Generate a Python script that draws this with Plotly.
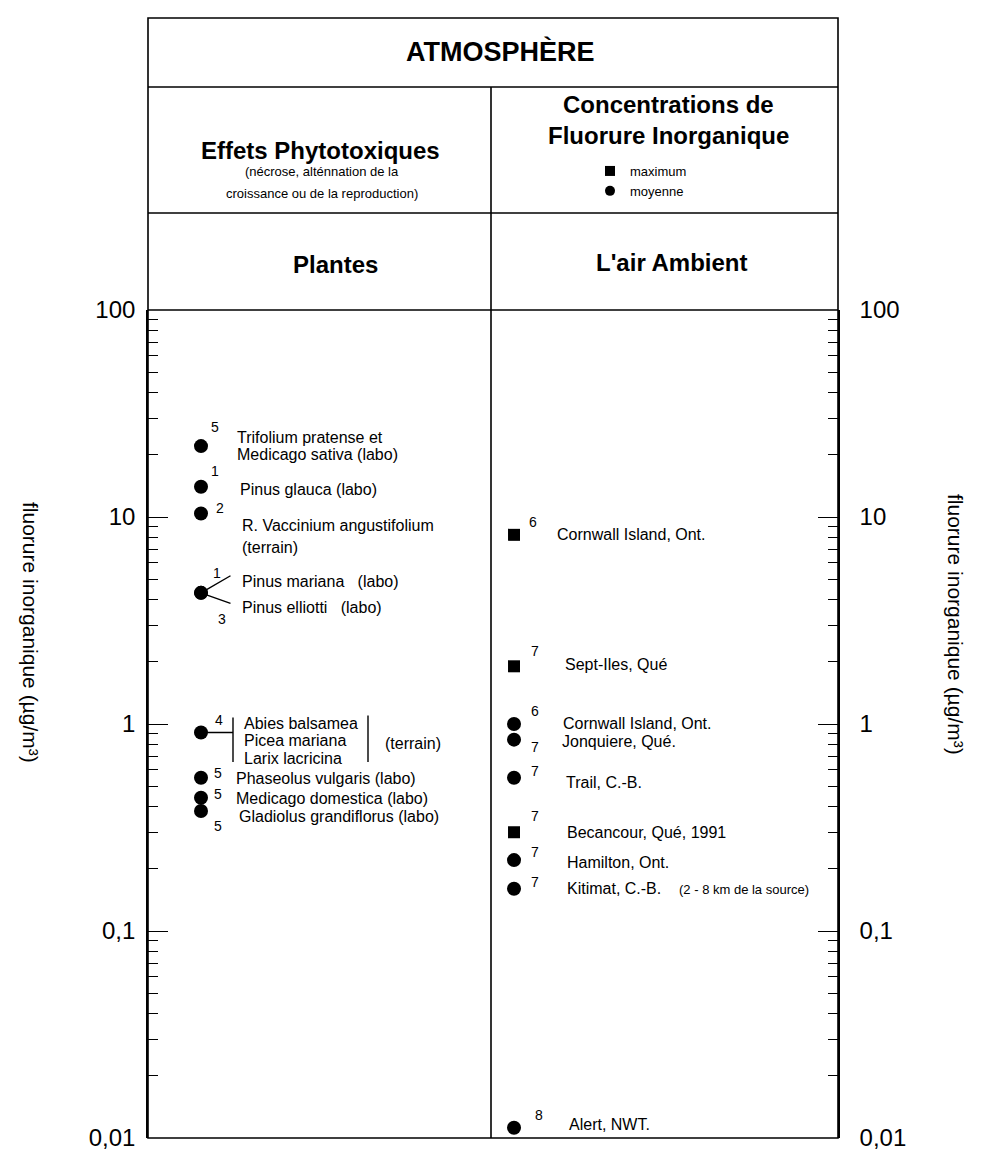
import numpy as np
import plotly.graph_objects as go

# ---------------- data ----------------
columns = ["Plantes", "L'air Ambient"]

plant_labels = [
    "Trifolium pratense et<br>Medicago sativa (labo)",
    "Pinus glauca (labo)",
    "R. Vaccinium angustifolium<br>(terrain)",
    "Pinus mariana   (labo)",
    "Pinus elliotti   (labo)",
    "Abies balsamea<br>Picea mariana<br>Larix lacricina",
    "Phaseolus vulgaris (labo)",
    "Medicago domestica (labo)",
    "Gladiolus grandiflorus (labo)",
]
plant_values = [22, 14, 10.4, 4.3, 4.3, 0.91, 0.55, 0.44, 0.38]
plant_refs = ["5", "1", "2", "1", "3", "4", "5", "5", "5"]

air_labels = [
    "Cornwall Island, Ont.",
    "Sept-Iles, Qué",
    "Cornwall Island, Ont.",
    "Jonquiere, Qué.",
    "Trail, C.-B.",
    "Becancour, Qué, 1991",
    "Hamilton, Ont.",
    "Kitimat, C.-B.    <span style='font-size:13px'>(2 - 8 km de la source)</span>",
    "Alert, NWT.",
]
air_values = [8.2, 1.9, 1.0, 0.84, 0.55, 0.30, 0.22, 0.16, 0.0112]
air_kinds = ["maximum", "maximum", "moyenne", "moyenne", "moyenne",
             "maximum", "moyenne", "moyenne", "moyenne"]
air_refs = ["6", "7", "6", "7", "7", "7", "7", "7", "8"]

tick_values = [0.01, 0.1, 1, 10, 100]
tick_labels = ["0,01", "0,1", "1", "10", "100"]

# ---------------- layout geometry (screen pixels) ----------------
W, H = 982, 1152
L, R, T, B = 148, 838, 310, 1138        # plot area edges


def px(X):
    return (X - L) / (R - L)


def py(Y):
    return (B - Y) / (B - T)


FONT = "Liberation Sans"
LAB = 16      # label font size
REF = 14      # reference-number font size

# label offsets (dx right, dy down, pixels from the marker); line gap for multi-line labels
plant_ref_off = [(14, -19), (14, -16), (19, -5), (16, -20), (21, 26), (18, -12), (17, -5), (17, -4), (17, 15)]
plant_txt_off = [(34, -9), (37, 3), (39, 12), (39, -11), (39, 15), (41, -9), (33, 1), (33, 1), (36, 6)]
plant_gap = [17, 0, 22, 0, 0, 17.5, 0, 0, 0]
air_ref_off = [(19, -13), (21, -15), (21, -13), (21, 7), (21, -7), (21, -16), (21, -8), (21, -7), (25, -13)]
air_txt_off = [(41, 0), (49, -2), (47, -1), (46, 2), (50, 5), (51, 0), (51, 2), (51, 0), (53, -3)]
air_gap = [0] * 9
kind_symbol = {"maximum": "square", "moyenne": "circle"}
kind_size = {"maximum": 12, "moyenne": 14}

fig = go.Figure()

fig.add_trace(go.Scatter(
    x=[columns[0]] * len(plant_values), y=plant_values, mode="markers",
    marker=dict(symbol="circle", size=14, color="black"), showlegend=False,
    hoverinfo="skip"))

for kind in ["maximum", "moyenne"]:
    idx = [i for i, k in enumerate(air_kinds) if k == kind]
    fig.add_trace(go.Scatter(
        x=[columns[1]] * len(idx), y=[air_values[i] for i in idx], mode="markers",
        marker=dict(symbol=kind_symbol[kind], size=kind_size[kind], color="black"),
        showlegend=False, hoverinfo="skip"))

# legend entries only
for kind in ["maximum", "moyenne"]:
    fig.add_trace(go.Scatter(
        x=[None], y=[None], mode="markers", name=kind,
        marker=dict(symbol=kind_symbol[kind], size=10, color="black")))

# dummy trace on the right axis
fig.add_trace(go.Scatter(x=[None], y=[None], yaxis="y2", showlegend=False))

ann = []


def add_labels(col, values, labels, refs, ref_off, txt_off, gaps):
    for v, lab, ref, ro, to, g in zip(values, labels, refs, ref_off, txt_off, gaps):
        ann.append(dict(x=col, y=np.log10(v), xref="x", yref="y", text=ref,
                        showarrow=False, xanchor="center", yanchor="middle",
                        xshift=ro[0], yshift=-ro[1], font=dict(size=REF)))
        for j, line in enumerate(lab.split("<br>")):
            ann.append(dict(x=col, y=np.log10(v), xref="x", yref="y", text=line,
                            showarrow=False, xanchor="left", yanchor="middle", align="left",
                            xshift=to[0], yshift=-(to[1] + j * g), font=dict(size=LAB)))


add_labels(columns[0], plant_values, plant_labels, plant_refs, plant_ref_off, plant_txt_off, plant_gap)
add_labels(columns[1], air_values, air_labels, air_refs, air_ref_off, air_txt_off, air_gap)


def connector(k, head_dx, head_dy, tail_dx, tail_dy, standoff=0):
    """A plain line drawn as an arrow without head, in pixels relative to plant point k."""
    ann.append(dict(x=columns[0], y=np.log10(plant_values[k]), xref="x", yref="y", text="",
                    showarrow=True, arrowhead=0, arrowwidth=1.4, arrowcolor="black",
                    xshift=head_dx, yshift=-head_dy, ax=tail_dx, ay=tail_dy, standoff=standoff))


# connectors for Pinus mariana / Pinus elliotti
connector(3, 0, 0, 31, -18, standoff=5)
connector(4, 0, 0, 31, 11, standoff=5)
# bracket for the Abies / Picea / Larix group
connector(5, 32, 0, -32, 0)
connector(5, 32, -15, 0, 46)
connector(5, 167, -17, 0, 48)

# "(terrain)" note for the bracketed group
ann.append(dict(x=columns[0], y=np.log10(plant_values[5]), xref="x", yref="y", text="(terrain)",
                showarrow=False, xanchor="left", yanchor="middle", xshift=182, yshift=-11,
                font=dict(size=LAB)))


def head(text, X, Y, size):
    ann.append(dict(x=px(X), y=py(Y), xref="paper", yref="paper", text=text,
                    showarrow=False, xanchor="center", yanchor="middle", font=dict(size=size)))


head("<b>ATMOSPHÈRE</b>", 500, 52, 27)
head("<b>Effets Phytotoxiques</b>", 320, 150, 24)
head("(nécrose, alténnation de la", 322, 172, 13)
head("croissance ou de la reproduction)", 322, 193, 13)
head("<b>Concentrations de</b>", 668, 104, 24)
head("<b>Fluorure Inorganique</b>", 668, 136, 24)
head("<b>Plantes</b>", 335, 264, 24)
head("<b>L'air Ambient</b>", 672, 262, 24)

for X, Y in [(31, 632), (956, 624)]:
    ann.append(dict(x=px(X), y=py(Y), xref="paper", yref="paper",
                    text="fluorure inorganique (µg/m³)", textangle=90, showarrow=False,
                    xanchor="center", yanchor="middle", font=dict(size=21)))

LW = 1.6
shapes = [
    dict(type="rect", xref="paper", yref="paper", x0=0, x1=1, y0=0, y1=py(18),
         line=dict(color="black", width=LW)),
    dict(type="line", xref="paper", yref="paper", x0=0, x1=1, y0=py(87), y1=py(87),
         line=dict(color="black", width=LW)),
    dict(type="line", xref="paper", yref="paper", x0=0, x1=1, y0=py(213), y1=py(213),
         line=dict(color="black", width=LW)),
    dict(type="line", xref="paper", yref="paper", x0=0, x1=1, y0=1.0, y1=1.0,
         line=dict(color="black", width=LW)),
    dict(type="line", xref="paper", yref="paper", x0=px(491), x1=px(491), y0=0, y1=py(87),
         line=dict(color="black", width=LW)),
]

minor_vals = [m * 10.0 ** e for e in range(-2, 2) for m in range(2, 10)]

yax = dict(type="log", range=[-2, 2], tickvals=tick_values, ticktext=tick_labels,
           ticks="inside", ticklen=20, tickwidth=1.3, tickcolor="black",
           showline=True, linecolor="black", linewidth=LW, showgrid=False, zeroline=False,
           tickfont=dict(size=24, color="black"), ticklabelstandoff=6,
           minor=dict(tickvals=minor_vals, ticks="inside", ticklen=10, tickcolor="black",
                      tickwidth=1, showgrid=False))

fig.update_layout(
    width=W, height=H,
    margin=dict(l=L, r=W - R, t=T, b=H - B, autoexpand=False),
    paper_bgcolor="white", plot_bgcolor="white",
    font=dict(family=FONT, color="black"),
    xaxis=dict(type="category", categoryorder="array", categoryarray=columns,
               range=[-0.1693, 2.035], showticklabels=False, ticks="", showgrid=False,
               showline=False, zeroline=False),
    yaxis=yax,
    yaxis2=dict(yax, overlaying="y", side="right", anchor="x", ticklabelstandoff=15),
    legend=dict(x=px(590), y=py(156), xanchor="left", yanchor="top", bgcolor="rgba(0,0,0,0)",
                font=dict(size=13), tracegroupgap=0, itemwidth=30),
    annotations=ann,
    shapes=shapes,
)

fig.write_html("out.html", config={"displayModeBar": False},
               post_script="document.body.style.margin='0';document.body.style.overflow='hidden';")
